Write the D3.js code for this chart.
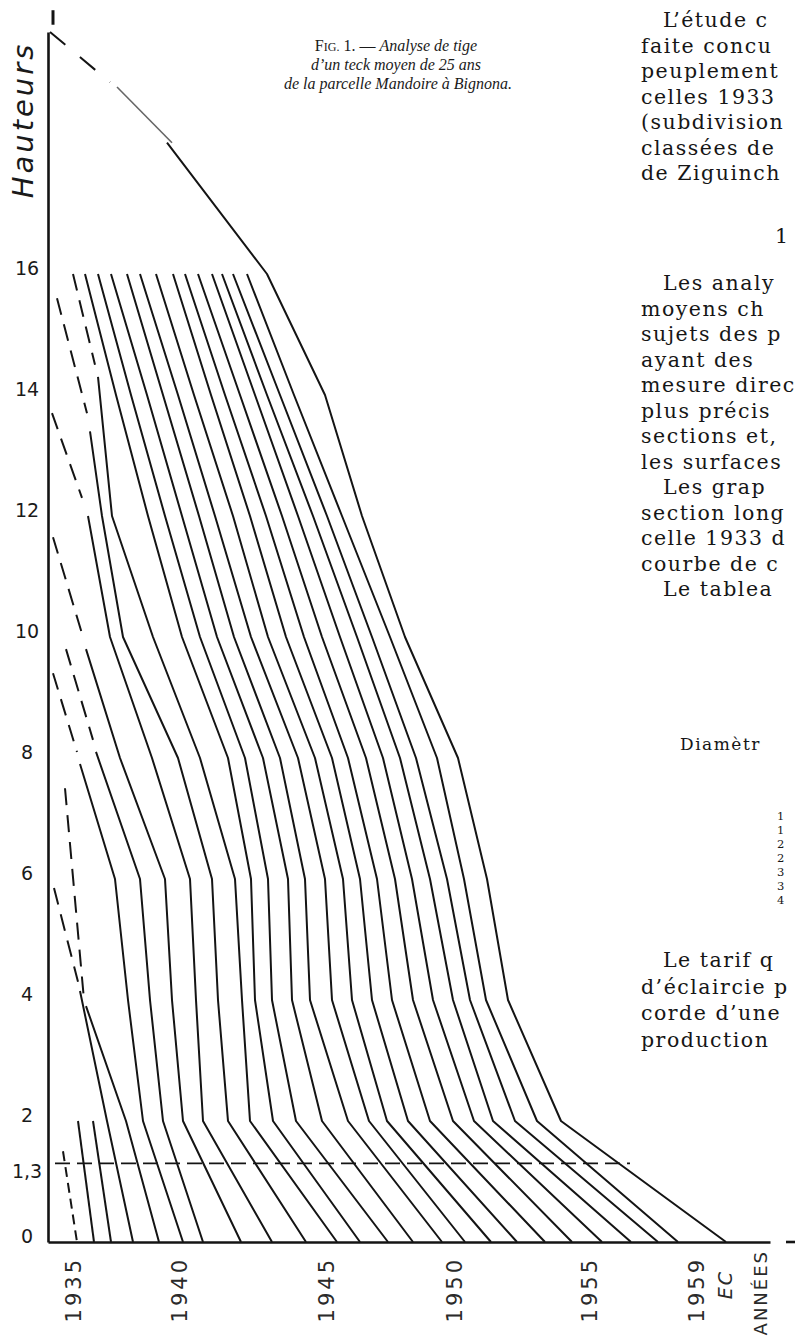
<!DOCTYPE html>
<html><head><meta charset="utf-8">
<script src="https://cdn.jsdelivr.net/npm/d3@7"></script>
<style>
html,body{margin:0;padding:0;background:#fff;overflow:hidden}
svg{display:block}
</style>
</head><body>
<svg id="chart" width="795" height="1340"></svg>
<script>
// ================= DATA =================
// heights of the measured discs (m)
const discHeights = [16, 14, 12, 10, 8, 6, 4, 2, 0];
// ring lines measured on every disc from 16 m down to the stump (abscissa, mm on the plate)
const fullYears = [1946,1947,1948,1949,1950,1951,1952,1953,1954,1955,1956,1957,1958];
const fullLines = [
  [ 7.4, 13.6, 20.0, 26.8, 36.0, 40.6, 41.4, 45.0,  62.4],
  [10.0, 16.6, 23.4, 30.4, 39.4, 44.0, 44.8, 49.6,  68.0],
  [12.6, 19.8, 26.8, 33.8, 43.0, 48.0, 48.8, 54.8,  73.0],
  [15.8, 23.0, 30.2, 37.2, 46.4, 51.4, 52.4, 60.0,  78.8],
  [18.4, 26.0, 33.4, 40.6, 50.0, 55.4, 56.8, 64.2,  83.4],
  [21.6, 29.2, 37.0, 44.0, 53.4, 59.0, 60.8, 67.8,  88.6],
  [25.0, 32.6, 40.4, 47.6, 56.8, 62.4, 64.8, 72.0,  93.8],
  [27.4, 35.4, 43.6, 51.2, 60.0, 65.8, 68.8, 76.4,  99.4],
  [30.0, 38.4, 46.8, 54.8, 63.6, 69.4, 73.0, 81.0, 104.8],
  [32.8, 41.4, 50.0, 58.4, 67.0, 72.8, 77.0, 85.2, 110.8],
  [34.8, 43.8, 53.0, 61.8, 70.4, 76.4, 81.0, 89.0, 116.6],
  [37.0, 46.4, 55.8, 64.8, 73.6, 79.8, 84.4, 93.4, 122.0],
  [39.8, 49.2, 58.8, 68.4, 77.8, 83.2, 87.6, 97.8, 126.0]
];
// early ring lines: solid part [abscissa, height]
const partYears = [1935,1936,1937,1938,1939,1940,1941,1942,1943,1944,1945];
const partSolid = [
  [],
  [[6.0,2],[9.2,0]],
  [[9.0,2],[12.6,0]],
  [[6.4,4.15],[11.8,2],[17.0,0]],
  [[7.6,3.9],[15.6,2],[22.2,0]],
  [[6.4,7.9],[13.4,6],[16.0,4],[19.0,2],[27.0,0]],
  [[9.6,8.1],[18.4,6],[20.4,4],[23.0,2],[31.0,0]],
  [[7.6,9.8],[14.4,8],[23.4,6],[24.8,4],[27.0,2],[38.6,0]],
  [[8.0,12],[12.4,10],[20.8,8],[28.4,6],[29.6,4],[31.0,2],[44.8,0]],
  [[8.4,13.4],[10.8,12],[15.0,10],[26.0,8],[32.8,6],[34.0,4],[36.0,2],[51.6,0]],
  [[10.0,14.3],[12.8,12],[21.0,10],[30.4,8],[37.4,6],[38.8,4],[40.4,2],[57.8,0]]
];
// early ring lines: extrapolated (dashed) part
const partDashed = [
  [[3.0,1.5],[5.8,0]],
  null,
  null,
  [[1.2,5.85],[6.0,4.3]],
  [[3.4,7.5],[7.2,4.0]],
  [[1.0,9.4],[5.8,8.1]],
  [[3.6,9.8],[9.0,8.3]],
  [[1.0,11.65],[7.0,10]],
  [[0.8,13.7],[6.8,12.3]],
  [[1.8,15.6],[7.8,13.7]],
  [[5.0,16],[9.4,14.5]]
];
// outer line (1959, exploitation) up to the top of the tree
const line1959Dashed = [[0.4,20.0],[12.4,19.17]];
const line1959Faint  = [[13.8,19.09],[24.8,18.17]];
const line1959       = [[23.8,18.17],[43.8,16],[55.4,14],[62.8,12],[71.4,10],[82.0,8],[87.8,6],[92.0,4],[102.6,2],[135.6,0]];
const treeTopMark    = [[1.0,20.12],[1.0,20.36]];
// breast height line
const breastHeight = 1.3;
const breastExtent = [1.4, 116.4];
// axis ticks
const heightTicks = [0, 1.3, 2, 4, 6, 8, 10, 12, 14, 16];
const yearTicks = ["1935","1940","1945","1950","1955","1959"];
const yearTickPos = [5.2, 26.4, 55.8, 81.4, 108.4, 129.8];
const extraXLabels = ["EC","ANNÉES"];
const extraXPos = [135.4, 142.4];
// texts
const titleLines = ["Analyse de tige","d’un teck moyen de 25 ans","de la parcelle Mandoire à Bignona."];
const yTitle = "Hauteurs";
const body1 = ["L’étude c","faite  concu","peuplement","celles 1933","(subdivision","classées de","de  Ziguinch"];
const body1Indent = [1,0,0,0,0,0,0];
const sectionNum = "1";
const body2 = ["Les analy","moyens  ch","sujets des p","ayant  des","mesure direc","plus  précis","sections et,","les surfaces","Les  grap","section long","celle 1933 d","courbe de c","Le tablea"];
const body2Indent = [1,0,0,0,0,0,0,0,1,0,0,0,1];
const tableHead = "Diamètr";
const tableCol = ["1","1","2","2","3","3","4"];
const body3 = ["Le tarif q","d’éclaircie p","corde d’une","production"];
const body3Indent = [1,0,0,0];

// ================= DRAW =================
const svg = d3.select("#chart");
svg.append("rect").attr("width",795).attr("height",1340).attr("fill","#fff");

const x = d3.scaleLinear().domain([0, 144.4]).range([48, 770]);
const y = d3.scaleLinear().domain([0, 20]).range([1242, 32]);
const line = d3.line().x(d => x(d[0])).y(d => y(d[1]));

const ink = "#141414";
const gLines = svg.append("g").attr("fill","none").attr("stroke",ink)
  .attr("stroke-width",2).attr("stroke-linejoin","round");

fullLines.forEach((xs, i) => {
  const pts = xs.map((v, j) => [v, discHeights[j]]);
  gLines.append("path").attr("d", line(pts)).attr("data-year", fullYears[i]);
});
partYears.forEach((yr, i) => {
  if (partSolid[i].length) gLines.append("path").attr("d", line(partSolid[i]));
  if (partDashed[i]) gLines.append("path").attr("d", line(partDashed[i]))
      .attr("stroke-dasharray", i === 0 ? "10,6" : "17,10");
});
gLines.append("path").attr("d", line(line1959Dashed)).attr("stroke-dasharray","20,19");
gLines.append("path").attr("d", line(line1959Faint)).attr("stroke","#666").attr("stroke-width",1.6);
gLines.append("path").attr("d", line(line1959));
gLines.append("path").attr("d", line(treeTopMark)).attr("stroke-width",3);

gLines.append("path")
  .attr("d", line([[breastExtent[0], breastHeight],[breastExtent[1], breastHeight]]))
  .attr("stroke-dasharray","15,7").attr("stroke-width",1.8);

// axes
const yAxis = d3.axisLeft(y).tickValues(heightTicks).tickSize(0).tickSizeOuter(0)
  .tickFormat(d => String(d).replace(".", ","));
const gy = svg.append("g").attr("transform",`translate(${x(0)},0)`).call(yAxis);
gy.select(".domain").attr("stroke",ink).attr("stroke-width",2.6);
gy.selectAll(".tick text")
  .attr("x", -21).attr("text-anchor","middle")
  .attr("dy", d => d === 1.3 ? "0.72em" : "0.05em")
  .attr("fill","#1a1a1a")
  .style("font-family","'DejaVu Sans', sans-serif").style("font-size","19px");

const xAxis = d3.axisBottom(x).tickValues([]).tickSizeOuter(0);
const gx = svg.append("g").attr("transform",`translate(0,${y(0)})`).call(xAxis);
gx.select(".domain").attr("stroke",ink).attr("stroke-width",2.6);
gLines.append("path").attr("d", line([[147.6,0],[149.4,0]])).attr("stroke-width",2.6);

const labelFont = "'DejaVu Sans', sans-serif";
yearTicks.forEach((t, i) => {
  svg.append("text")
    .attr("transform", `translate(${x(yearTickPos[i])},${y(0) + 15}) rotate(-90)`)
    .attr("text-anchor","end").attr("dominant-baseline","central")
    .style("font-family", labelFont).style("font-size","21px")
    .style("letter-spacing","3px").attr("fill","#2a2a2a").text(t);
});
extraXLabels.forEach((t, i) => {
  svg.append("text")
    .attr("transform", `translate(${x(extraXPos[i])},${y(0) + (i === 0 ? 28 : 8)}) rotate(-90)`)
    .attr("text-anchor","end").attr("dominant-baseline","central")
    .style("font-family", labelFont).style("font-size", i === 0 ? "19px" : "18px")
    .style("font-style", i === 0 ? "italic" : "normal")
    .style("letter-spacing","2px").attr("fill","#2a2a2a").text(t);
});

svg.append("text").attr("transform","translate(23,120) rotate(-90)")
  .attr("text-anchor","middle").attr("dominant-baseline","central")
  .style("font-family", labelFont).style("font-style","italic")
  .style("font-size","29px").style("letter-spacing","3px").attr("fill","#1a1a1a")
  .text(yTitle);

// figure caption
const serif = "'Liberation Serif', 'DejaVu Serif', serif";
const cap = svg.append("g").style("font-family", serif).attr("fill","#1a1a1a");
const t1 = cap.append("text").attr("x",396).attr("y",51).attr("text-anchor","middle").style("font-size","16px");
t1.append("tspan").text("F");
t1.append("tspan").style("font-size","12px").text("IG.");
t1.append("tspan").text(" 1. — ");
t1.append("tspan").style("font-style","italic").text(titleLines[0]);
cap.append("text").attr("x",396).attr("y",70).attr("text-anchor","middle")
  .style("font-size","16px").style("font-style","italic").text(titleLines[1]);
cap.append("text").attr("x",398).attr("y",89).attr("text-anchor","middle")
  .style("font-size","16px").style("font-style","italic").text(titleLines[2]);

// page text on the right
const body = svg.append("g").style("font-family","'DejaVu Serif', serif").attr("fill","#161616")
  .style("font-size","20.5px").style("letter-spacing","1.5px");
const flushX = 641, indentX = 663;
body1.forEach((s, i) => body.append("text").attr("x", body1Indent[i] ? indentX : flushX)
  .attr("y", 27 + i * 25.5).text(s));
body.append("text").attr("x",775).attr("y",243).text(sectionNum);
body2.forEach((s, i) => body.append("text").attr("x", body2Indent[i] ? indentX : flushX)
  .attr("y", 290 + i * 25.5).text(s));
body.append("text").attr("x",680).attr("y",750).style("font-size","17px").style("letter-spacing","1.5px").text(tableHead);
tableCol.forEach((s, i) => body.append("text").attr("x",777).attr("y", 820 + i * 14)
  .style("font-size","11.5px").style("letter-spacing","0px").text(s));
body3.forEach((s, i) => body.append("text").attr("x", body3Indent[i] ? indentX : flushX)
  .attr("y", 967 + i * 26.5).text(s));
</script>
</body></html>
